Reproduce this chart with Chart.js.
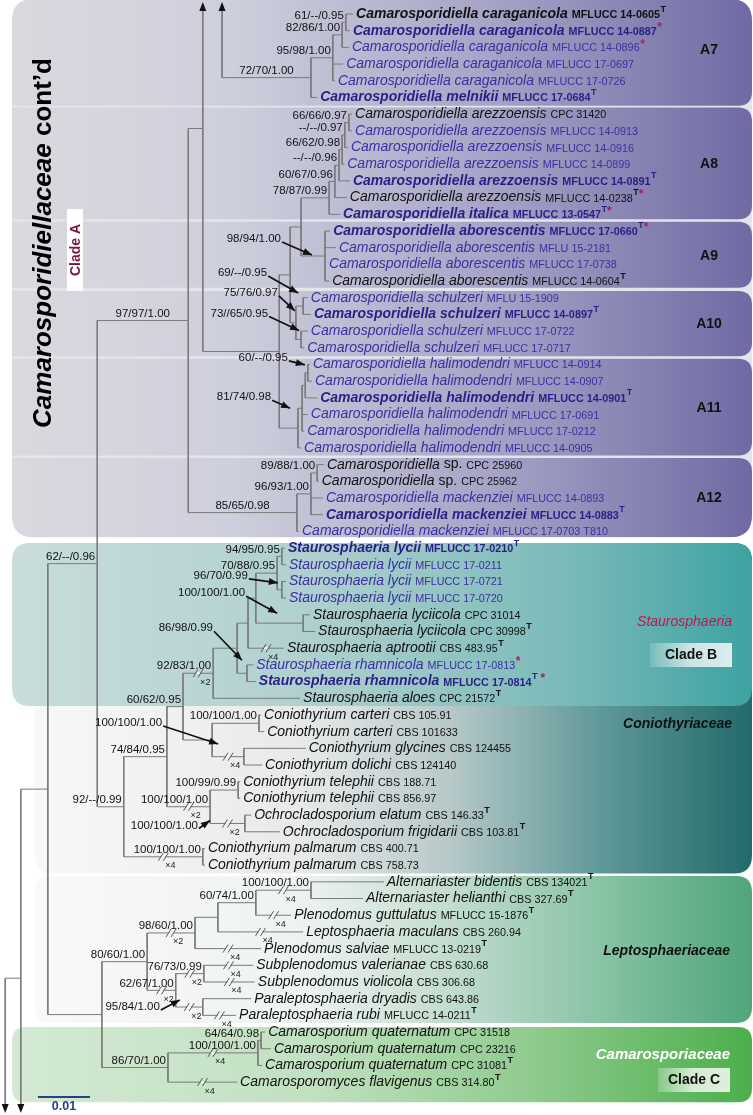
<!DOCTYPE html>
<html>
<head>
<meta charset="utf-8">
<script src="https://cdn.jsdelivr.net/npm/chart.js@4.4.1/dist/chart.umd.min.js"></script>
<style>
  html, body { margin: 0; padding: 0; background: #fff; }
  #tree { display: block; }
</style>
</head>
<body>
<canvas id="tree" width="753" height="1115"></canvas>
<script>
// ---- leaves, top to bottom ----
const taxon = [
  'Camarosporidiella caraganicola', 'Camarosporidiella caraganicola', 'Camarosporidiella caraganicola',
  'Camarosporidiella caraganicola', 'Camarosporidiella caraganicola', 'Camarosporidiella melnikii',
  'Camarosporidiella arezzoensis', 'Camarosporidiella arezzoensis', 'Camarosporidiella arezzoensis',
  'Camarosporidiella arezzoensis', 'Camarosporidiella arezzoensis', 'Camarosporidiella arezzoensis',
  'Camarosporidiella italica',
  'Camarosporidiella aborescentis', 'Camarosporidiella aborescentis', 'Camarosporidiella aborescentis',
  'Camarosporidiella aborescentis',
  'Camarosporidiella schulzeri', 'Camarosporidiella schulzeri', 'Camarosporidiella schulzeri',
  'Camarosporidiella schulzeri',
  'Camarosporidiella halimodendri', 'Camarosporidiella halimodendri', 'Camarosporidiella halimodendri',
  'Camarosporidiella halimodendri', 'Camarosporidiella halimodendri', 'Camarosporidiella halimodendri',
  'Camarosporidiella sp.', 'Camarosporidiella sp.', 'Camarosporidiella mackenziei',
  'Camarosporidiella mackenziei', 'Camarosporidiella mackenziei',
  'Staurosphaeria lycii', 'Staurosphaeria lycii', 'Staurosphaeria lycii', 'Staurosphaeria lycii',
  'Staurosphaeria lyciicola', 'Staurosphaeria lyciicola', 'Staurosphaeria aptrootii',
  'Staurosphaeria rhamnicola', 'Staurosphaeria rhamnicola', 'Staurosphaeria aloes',
  'Coniothyrium carteri', 'Coniothyrium carteri', 'Coniothyrium glycines', 'Coniothyrium dolichi',
  'Coniothyrium telephii', 'Coniothyrium telephii', 'Ochrocladosporium elatum',
  'Ochrocladosporium frigidarii', 'Coniothyrium palmarum', 'Coniothyrium palmarum',
  'Alternariaster bidentis', 'Alternariaster helianthi', 'Plenodomus guttulatus',
  'Leptosphaeria maculans', 'Plenodomus salviae', 'Subplenodomus valerianae',
  'Subplenodomus violicola', 'Paraleptosphaeria dryadis', 'Paraleptosphaeria rubi',
  'Camarosporium quaternatum', 'Camarosporium quaternatum', 'Camarosporium quaternatum',
  'Camarosporomyces flavigenus'
];
const strain = [
  'MFLUCC 14-0605', 'MFLUCC 14-0887', 'MFLUCC 14-0896', 'MFLUCC 17-0697', 'MFLUCC 17-0726', 'MFLUCC 17-0684',
  'CPC 31420', 'MFLUCC 14-0913', 'MFLUCC 14-0916', 'MFLUCC 14-0899', 'MFLUCC 14-0891', 'MFLUCC 14-0238',
  'MFLUCC 13-0547',
  'MFLUCC 17-0660', 'MFLU 15-2181', 'MFLUCC 17-0738', 'MFLUCC 14-0604',
  'MFLU 15-1909', 'MFLUCC 14-0897', 'MFLUCC 17-0722', 'MFLUCC 17-0717',
  'MFLUCC 14-0914', 'MFLUCC 14-0907', 'MFLUCC 14-0901', 'MFLUCC 17-0691', 'MFLUCC 17-0212', 'MFLUCC 14-0905',
  'CPC 25960', 'CPC 25962', 'MFLUCC 14-0893', 'MFLUCC 14-0883', 'MFLUCC 17-0703 T810',
  'MFLUCC 17-0210', 'MFLUCC 17-0211', 'MFLUCC 17-0721', 'MFLUCC 17-0720', 'CPC 31014', 'CPC 30998',
  'CBS 483.95', 'MFLUCC 17-0813', 'MFLUCC 17-0814', 'CPC 21572',
  'CBS 105.91', 'CBS 101633', 'CBS 124455', 'CBS 124140', 'CBS 188.71', 'CBS 856.97', 'CBS 146.33',
  'CBS 103.81', 'CBS 400.71', 'CBS 758.73',
  'CBS 134021', 'CBS 327.69', 'MFLUCC 15-1876', 'CBS 260.94', 'MFLUCC 13-0219', 'CBS 630.68',
  'CBS 306.68', 'CBS 643.86', 'MFLUCC 14-0211',
  'CPC 31518', 'CPC 23216', 'CPC 31081', 'CBS 314.80'
];
// T = ex-type, * = marked isolate
const mark = [
  'T', '*', '*', '', '', 'T',
  '', '', '', '', 'T', 'T*', 'T*',
  'T*', '', '', 'T',
  '', 'T', '', '',
  '', '', 'T', '', '', '',
  '', '', '', 'T', '',
  'T', '', '', '', '', 'T', 'T', '*', 'T *', 'T',
  '', '', '', '', '', '', 'T', 'T', '', '',
  'T', 'T', 'T', '', 'T', '', '', '', 'T',
  '', '', 'T', 'T'
];
// isolates of this study (purple) and emphasised strains (bold)
const isNew = [
  0, 1, 1, 1, 1, 1,
  0, 1, 1, 1, 1, 0, 1,
  1, 1, 1, 0,
  1, 1, 1, 1,
  1, 1, 1, 1, 1, 1,
  0, 0, 1, 1, 1,
  1, 1, 1, 1, 0, 0, 0, 1, 1, 0,
  0, 0, 0, 0, 0, 0, 0, 0, 0, 0,
  0, 0, 0, 0, 0, 0, 0, 0, 0,
  0, 0, 0, 0
];
const isBold = [
  1, 1, 0, 0, 0, 1,
  0, 0, 0, 0, 1, 0, 1,
  1, 0, 0, 0,
  0, 1, 0, 0,
  0, 0, 1, 0, 0, 0,
  0, 0, 0, 1, 0,
  1, 0, 0, 0, 0, 0, 0, 0, 1, 0,
  0, 0, 0, 0, 0, 0, 0, 0, 0, 0,
  0, 0, 0, 0, 0, 0, 0, 0, 0,
  0, 0, 0, 0
];
// tip depth, in 1e-3 substitutions per site
const tipDepth = [
  67.9, 67.3, 67.1, 66.0, 64.4, 61.0,
  67.7, 67.7, 66.9, 66.2, 67.3, 66.7, 65.4,
  63.5, 64.6, 62.7, 63.3,
  59.2, 59.8, 59.2, 58.5,
  59.6, 60.0, 61.0, 59.2, 58.5, 57.9,
  62.3, 61.3, 62.1, 62.1, 57.5,
  54.8, 55.0, 55.0, 55.0, 59.6, 60.6, 54.6, 48.7, 49.2, 57.7,
  50.2, 50.8, 58.8, 50.4, 46.2, 46.2, 48.3, 53.8, 39.4, 39.4,
  73.8, 69.8, 56.0, 58.3, 50.2, 48.7, 49.0, 48.3, 45.4,
  51.0, 52.1, 50.4, 45.6
];

// ---- internal nodes (children listed before parents) ----
const nodeId = [
  'n61', 'n82', 'n95', 'n72', 'nUpA',
  'n66', 'nD8', 'nC8', 'nB8', 'nB2', 'nA8', 'nA9', 'n301',
  'n69', 'n73', 'nA10', 'n290',
  'n60A', 'nB11', 'nC11', 'nA11', 'n279', 'nUpB',
  'n89', 'n96a', 'nA12', 'n188',
  'n94', 'n96s', 'nLyc', 'nLyc2', 'nS3', 'nS2', 'nRh', 'nS1', 'nStau',
  'nCart', 'nGly', 'nCG', 'n183', 'nTel', 'nOch', 'nTO', 'n168', 'nPalm', 'nCon', 'n97',
  'nAlt', 'n60L', 'n218', 'nX', 'nSub', 'nPara', 'nY', 'nLep',
  'n64', 'nCq', 'nCam', 'n102', 'n48', 'n21', 'n5'
];
const nodeDepth = [
  66.5, 65.8, 64.0, 59.8, 42.7,
  67.1, 66.3, 65.8, 65.2, 64.4, 63.3, 62.5, 57.9,
  58.3, 57.9, 56.9, 55.8,
  59.2, 58.7, 58.1, 57.3, 53.7, 39.0,
  61.0, 59.8, 57.1, 36.2,
  54.2, 54.2, 53.3, 58.3, 49.2, 47.7, 47.5, 45.6, 41.0,
  49.8, 46.9, 40.8, 35.2, 45.8, 47.1, 40.4, 32.1, 39.0, 23.8, 18.7,
  59.8, 49.2, 41.9, 37.5, 39.2, 39.0, 33.8, 28.3,
  50.2, 49.6, 32.3, 19.6, 9.2, 4.0, 1.0
];
const nodeKids = [
  [0, 1], ['n61', 2], ['n82', 3, 4], ['n95', 5], ['upA', 'n72'],
  [6, 7], ['n66', 8], ['nD8', 9], ['nC8', 10], ['nB8', 11], ['nB2', 12], [13, 14, 15, 16], ['nA8', 'nA9'],
  [17, 18], [19, 20], ['n69', 'n73'], ['n301', 'nA10'],
  [21, 22], ['n60A', 23], ['nB11', 24, 25], ['nC11', 26], ['n290', 'nA11'], ['upB', 'n279'],
  [27, 28], ['n89', 29, 30], ['n96a', 31], ['nUpB', 'nA12'],
  [32, 33], [34, 35], ['n94', 'n96s'], [36, 37], ['nLyc', 'nLyc2'], ['nS3', 38], [39, 40], ['nS2', 'nRh'], ['nS1', 41],
  [42, 43], [44, 45], ['nCart', 'nGly'], ['nStau', 'nCG'], [46, 47], [48, 49], ['nTel', 'nOch'],
  ['n183', 'nTO'], [50, 51], ['n168', 'nPalm'], ['n188', 'nCon'],
  [52, 53], ['nAlt', 54], ['n60L', 55], ['n218', 56], [57, 58], [59, 60], ['nSub', 'nPara'], ['nX', 'nY'],
  [61, 62], ['n64', 63], ['nCq', 64], ['nLep', 'nCam'], ['n97', 'n102'], ['n48', 'dnA'], ['n21', 'dnB']
];
const support = [
  '61/--/0.95', '82/86/1.00', '95/98/1.00', '72/70/1.00', '',
  '66/66/0.97', '--/--/0.97', '66/62/0.98', '--/--/0.96', '60/67/0.96', '78/87/0.99', '98/94/1.00', '',
  '69/--/0.95', '73//65/0.95', '75/76/0.97', '',
  '60/--/0.95', '', '81/74/0.98', '', '', '',
  '89/88/1.00', '96/93/1.00', '85/65/0.98', '97/97/1.00',
  '94/95/0.95', '96/70/0.99', '70/88/0.95', '100/100/1.00', '', '', '86/98/0.99', '', '92/83/1.00',
  '100/100/1.00', '', '100/100/1.00', '60/62/0.95', '100/99/0.99', '100/100/1.00', '100/100/1.00',
  '74/84/0.95', '100/100/1.00', '92/--/0.99', '62/--/0.96',
  '100/100/1.00', '60/74/1.00', '', '98/60/1.00', '76/73/0.99', '95/84/1.00', '62/67/1.00', '80/60/1.00',
  '64/64/0.98', '100/100/1.00', '86/70/1.00', '', '', '', ''
];

// branches drawn shortened, with their scale factor
const breakAt = [38, 'nStau', 'nGly', 'nTO', 'nOch', 'nPalm', 'nAlt', 54, 55, 56, 'nX', 'nY', 'nSub',
  57, 58, 'nPara', 60, 'nCq', 64];
const breakFactor = [4, 2, 4, 2, 2, 4, 4, 4, 4, 4, 2, 2, 2, 4, 4, 2, 4, 4, 4];

// branches continued on the previous / next page (leaf-index position)
const stubId = ['upA', 'upB', 'dnA', 'dnB'];
const stubPos = [-4, -6.5, 69.1, 72];

// ---- geometry ----
const yMin = -0.84, yMax = 65.97;
const clampTop = yMin + (11 / 1115) * (yMax - yMin);
const clampBot = yMin + (1104 / 1115) * (yMax - yMin);

const pos = {};
const parentOf = {};
taxon.forEach((t, i) => { pos[i] = { x: tipDepth[i], y: i }; });
stubId.forEach((s, k) => { pos[s] = { x: null, y: stubPos[k], stub: true }; });
nodeId.forEach((id, k) => {
  const ys = nodeKids[k].map(r => pos[r].y);
  pos[id] = { x: nodeDepth[k], y: (Math.min(...ys) + Math.max(...ys)) / 2 };
  nodeKids[k].forEach(r => { parentOf[r] = id; });
});

const edges = [];
nodeId.forEach((id, k) => {
  const p = pos[id];
  const ys = nodeKids[k].map(r => {
    const c = pos[r];
    return c.stub ? Math.min(Math.max(c.y, clampTop), clampBot) : c.y;
  });
  edges.push({ x: p.x, y: Math.min(...ys) }, { x: p.x, y: Math.max(...ys) }, { x: p.x, y: null });
  nodeKids[k].forEach(r => {
    const c = pos[r];
    if (c.stub) return;
    edges.push({ x: p.x, y: c.y }, { x: c.x, y: c.y }, { x: c.x, y: null });
  });
});

// support labels that sit away from their node, with an arrow: [labelDx, labelDy, tipDx, tipDy] px
const callout = {
  nA9: [-44, -17, -13, -1], n69: [-36, -33, -5, -13], nA10: [-18, -30, -1, -12],
  n73: [-33, -26, -2, -9], n60A: [-20, -15, -3, -8], nC11: [-31, -11, -12, 0],
  n96s: [-34, -14, -4, -7], nLyc2: [-58, -30, -26, -10], nRh: [-34, -45, -5, -13],
  nCG: [-50, -17, 6, 4], nOch: [-47, 2, -35, -3], nPara: [-43, 0, -23, -7]
};

const FONT = '"Liberation Sans", Arial, sans-serif';

function rr(ctx, x, y, w, h, r) {
  const [tl, tr, br, bl] = Array.isArray(r) ? r : [r, r, r, r];
  ctx.beginPath();
  ctx.moveTo(x + tl, y);
  ctx.lineTo(x + w - tr, y); ctx.quadraticCurveTo(x + w, y, x + w, y + tr);
  ctx.lineTo(x + w, y + h - br); ctx.quadraticCurveTo(x + w, y + h, x + w - br, y + h);
  ctx.lineTo(x + bl, y + h); ctx.quadraticCurveTo(x, y + h, x, y + h - bl);
  ctx.lineTo(x, y + tl); ctx.quadraticCurveTo(x, y, x + tl, y);
  ctx.closePath();
}
function grad(ctx, x0, x1, stops) {
  const g = ctx.createLinearGradient(x0, 0, x1, 0);
  stops.forEach(s => g.addColorStop(s[0], s[1]));
  return g;
}
function arrowHead(ctx, x1, y1, x2, y2, len, wid) {
  const a = Math.atan2(y2 - y1, x2 - x1);
  ctx.beginPath();
  ctx.moveTo(x2, y2);
  ctx.lineTo(x2 - len * Math.cos(a) + wid / 2 * Math.sin(a), y2 - len * Math.sin(a) - wid / 2 * Math.cos(a));
  ctx.lineTo(x2 - len * Math.cos(a) - wid / 2 * Math.sin(a), y2 - len * Math.sin(a) + wid / 2 * Math.cos(a));
  ctx.closePath();
  ctx.fill();
}

const treeDecor = {
  id: 'treeDecor',
  beforeDatasetsDraw(chart) {
    const ctx = chart.ctx;
    const Y = v => chart.scales.y.getPixelForValue(v);
    ctx.save();
    // Coniothyriaceae
    rr(ctx, 35, Y(31.7), 717, Y(51.5) - Y(31.7), 18);
    ctx.fillStyle = grad(ctx, 35, 752, [[0, '#f8f8f8'], [0.37, '#e8eaea'], [0.58, '#b6c8c8'], [0.79, '#5f9898'], [1, '#226a6a']]);
    ctx.fill();
    // Staurosphaeria (clade B)
    rr(ctx, 12, Y(31.7), 740, Y(41.46) - Y(31.7), 18);
    ctx.fillStyle = grad(ctx, 12, 752, [[0, '#c9dddc'], [0.4, '#b0d0cf'], [0.75, '#7abab9'], [1, '#3ea3a2']]);
    ctx.fill();
    // Leptosphaeriaceae
    rr(ctx, 35, Y(51.65), 717, Y(60.45) - Y(51.65), 16);
    ctx.fillStyle = grad(ctx, 35, 752, [[0, '#f9f9f9'], [0.37, '#eef3f0'], [0.58, '#c2dccf'], [0.79, '#88c3a4'], [1, '#4fa57a']]);
    ctx.fill();
    // Camarosporiaceae (clade C)
    rr(ctx, 12, Y(60.7), 740, Y(65.2) - Y(60.7), 14);
    ctx.fillStyle = grad(ctx, 12, 752, [[0, '#d3e9d3'], [0.4, '#c2e1c1'], [0.7, '#90cb8f'], [1, '#4caf4b']]);
    ctx.fill();
    // Camarosporidiellaceae, clades A7-A12
    rr(ctx, 12, Y(-0.9), 740, Y(31.35) - Y(-0.9), 22);
    ctx.fillStyle = '#e4e4ea';
    ctx.fill();
    ctx.save();
    ctx.clip();
    const sub = [[-1.3, 5.5], [5.6, 12.3], [12.45, 16.4], [16.6, 20.5], [20.65, 26.45], [26.6, 31.35]];
    sub.forEach(b => {
      rr(ctx, 0, Y(b[0]), 752, Y(b[1]) - Y(b[0]), [0, 14, 14, 0]);
      ctx.fillStyle = grad(ctx, 12, 752, [[0, '#d9dadf'], [0.3, '#cecfdc'], [0.65, '#a6a3c7'], [1, '#6f6aa3']]);
      ctx.fill();
    });
    ctx.restore();
    // clade tags
    ctx.fillStyle = '#ffffff';
    ctx.fillRect(67, 209, 16, 82);
    ctx.fillStyle = grad(ctx, 650, 732, [[0, 'rgba(255,255,255,0.15)'], [0.5, 'rgba(236,244,244,0.8)'], [1, 'rgba(236,244,244,0.9)']]);
    ctx.fillRect(650, 643, 82, 24);
    ctx.fillStyle = grad(ctx, 658, 730, [[0, 'rgba(255,255,255,0.2)'], [0.5, 'rgba(236,246,236,0.85)'], [1, 'rgba(236,246,236,0.9)']]);
    ctx.fillRect(658, 1068, 72, 24);
    ctx.restore();
  },
  afterDatasetsDraw(chart) {
    const ctx = chart.ctx;
    const xs = chart.scales.x, ys = chart.scales.y;
    const P = r => ({ x: xs.getPixelForValue(pos[r].x), y: ys.getPixelForValue(pos[r].y) });
    ctx.save();

    // branch breaks
    breakAt.forEach((r, k) => {
      const c = P(r), p = P(parentOf[r]);
      const mx = (c.x + p.x) / 2, my = c.y;
      ctx.fillStyle = 'rgba(255,255,255,0.9)';
      ctx.fillRect(mx - 2, my - 1, 4, 2);
      ctx.strokeStyle = '#555';
      ctx.lineWidth = 1;
      [-2.5, 2.5].forEach(d => {
        ctx.beginPath();
        ctx.moveTo(mx + d - 2.5, my + 4);
        ctx.lineTo(mx + d + 2.5, my - 4);
        ctx.stroke();
      });
      ctx.fillStyle = '#222';
      ctx.font = '9px ' + FONT;
      ctx.textAlign = 'left';
      ctx.textBaseline = 'middle';
      ctx.fillText('\u00d7' + breakFactor[k], mx + 2, my + 9);
    });

    // off-page arrows
    ctx.fillStyle = '#111';
    nodeId.forEach((id, k) => {
      nodeKids[k].forEach(r => {
        if (!pos[r].stub) return;
        const x = xs.getPixelForValue(pos[id].x);
        if (pos[r].y < 0) arrowHead(ctx, x, 20, x, 2, 9, 7);
        else arrowHead(ctx, x, 1090, x, 1113, 9, 7);
      });
    });

    // support values
    ctx.font = '11.5px ' + FONT;
    ctx.textBaseline = 'middle';
    nodeId.forEach((id, k) => {
      const s = support[k];
      if (!s) return;
      const p = P(id);
      const c = callout[id];
      ctx.fillStyle = '#111';
      ctx.textAlign = 'right';
      if (c) {
        const lx = p.x + c[0], ly = p.y + c[1];
        const tx = p.x + c[2], ty = p.y + c[3];
        ctx.fillText(s, lx, ly);
        ctx.strokeStyle = '#111';
        ctx.lineWidth = 1.7;
        ctx.beginPath();
        ctx.moveTo(lx + 1, ly + 3);
        ctx.lineTo(tx, ty);
        ctx.stroke();
        arrowHead(ctx, lx + 1, ly + 3, tx, ty, 9, 7);
        return;
      }
      const w = ctx.measureText(s).width;
      let rx = p.x - 2;
      const par = parentOf[id] ? P(parentOf[id]) : null;
      if (par && (p.x - par.x) > w + 28) rx = (p.x + par.x) / 2 + w / 2;
      ctx.fillText(s, rx, p.y - 7);
    });

    // leaf labels
    ctx.textAlign = 'left';
    taxon.forEach((t, i) => {
      const p = P(i);
      let x = p.x + 3;
      const y = p.y;
      const bold = isBold[i] ? 'bold ' : '';
      const col = isNew[i] ? (isBold[i] ? '#2a1f85' : '#3a30a0') : '#111';
      ctx.fillStyle = col;
      let ital = t, roman = '';
      if (t.endsWith(' sp.')) { ital = t.slice(0, -4); roman = ' sp.'; }
      ctx.font = 'italic ' + bold + '14px ' + FONT;
      ctx.fillText(ital, x, y);
      x += ctx.measureText(ital).width;
      if (roman) {
        ctx.font = bold + '14px ' + FONT;
        ctx.fillText(roman, x, y);
        x += ctx.measureText(roman).width;
      }
      x += 4;
      ctx.font = bold + '10.8px ' + FONT;
      ctx.fillText(strain[i], x, y + 1);
      x += ctx.measureText(strain[i]).width + 0.5;
      for (const ch of mark[i]) {
        if (ch === 'T') {
          ctx.fillStyle = col;
          ctx.font = 'bold 9px ' + FONT;
          ctx.fillText('T', x, y - 5);
          x += ctx.measureText('T').width;
        } else if (ch === '*') {
          ctx.fillStyle = '#a3206f';
          ctx.font = 'bold 12px ' + FONT;
          ctx.fillText('*', x, y - 3);
          x += ctx.measureText('*').width;
        } else {
          x += 3;
        }
      }
    });

    // clade names
    const Y = v => ys.getPixelForValue(v);
    ctx.fillStyle = '#111';
    ctx.font = 'bold 14px ' + FONT;
    ctx.textAlign = 'center';
    [['A7', -1.3, 5.5], ['A8', 5.6, 12.3], ['A9', 12.45, 16.4], ['A10', 16.6, 20.5], ['A11', 20.65, 26.45], ['A12', 26.6, 31.35]]
      .forEach(a => ctx.fillText(a[0], 709, (Y(a[1]) + Y(a[2])) / 2 + 1));
    ctx.fillText('Clade B', 691, 655);
    ctx.fillText('Clade C', 694, 1080);
    ctx.textAlign = 'right';
    ctx.fillStyle = '#c0174f';
    ctx.font = 'italic 14px ' + FONT;
    ctx.fillText('Staurosphaeria', 732, 622);
    ctx.fillStyle = '#111';
    ctx.font = 'italic bold 14px ' + FONT;
    ctx.fillText('Coniothyriaceae', 732, 724);
    ctx.fillText('Leptosphaeriaceae', 730, 951);
    ctx.fillStyle = '#ffffff';
    ctx.font = 'italic bold 15px ' + FONT;
    ctx.fillText('Camarosporiaceae', 730, 1055);

    // rotated family title and clade A tag
    ctx.save();
    ctx.translate(44, 243);
    ctx.rotate(-Math.PI / 2);
    ctx.fillStyle = '#000';
    ctx.textAlign = 'left';
    ctx.font = 'italic bold 26px ' + FONT;
    const w1 = ctx.measureText('Camarosporidiellaceae').width;
    ctx.font = 'bold 26px ' + FONT;
    const w2 = ctx.measureText(' cont\u2019d').width;
    ctx.font = 'italic bold 26px ' + FONT;
    ctx.fillText('Camarosporidiellaceae', -(w1 + w2) / 2, 0);
    ctx.font = 'bold 26px ' + FONT;
    ctx.fillText(' cont\u2019d', -(w1 + w2) / 2 + w1, 0);
    ctx.restore();
    ctx.save();
    ctx.translate(75, 250);
    ctx.rotate(-Math.PI / 2);
    ctx.fillStyle = '#7a1446';
    ctx.textAlign = 'center';
    ctx.font = 'bold 14px ' + FONT;
    ctx.fillText('Clade A', 0, 1);
    ctx.restore();

    // scale bar
    const x0 = xs.getPixelForValue(7.3), x1 = xs.getPixelForValue(17.3);
    ctx.strokeStyle = '#2b3d8f';
    ctx.lineWidth = 2;
    ctx.beginPath();
    ctx.moveTo(x0, 1097);
    ctx.lineTo(x1, 1097);
    ctx.stroke();
    ctx.fillStyle = '#2b3d8f';
    ctx.font = 'bold 12.5px ' + FONT;
    ctx.textAlign = 'center';
    ctx.fillText('0.01', (x0 + x1) / 2, 1107);

    ctx.restore();
  }
};

new Chart(document.getElementById('tree'), {
  type: 'scatter',
  data: {
    datasets: [{
      data: edges,
      showLine: true,
      spanGaps: false,
      borderColor: '#7a7a7a',
      borderWidth: 1,
      pointRadius: 0,
      pointHoverRadius: 0
    }]
  },
  options: {
    responsive: false,
    devicePixelRatio: 1,
    animation: false,
    events: [],
    layout: { padding: 0, autoPadding: false },
    plugins: { legend: { display: false }, tooltip: { enabled: false } },
    scales: {
      x: { type: 'linear', min: 0, max: 753 / 5.2, display: false },
      y: { type: 'linear', min: yMin, max: yMax, reverse: true, display: false }
    }
  },
  plugins: [treeDecor]
});
</script>
</body>
</html>
